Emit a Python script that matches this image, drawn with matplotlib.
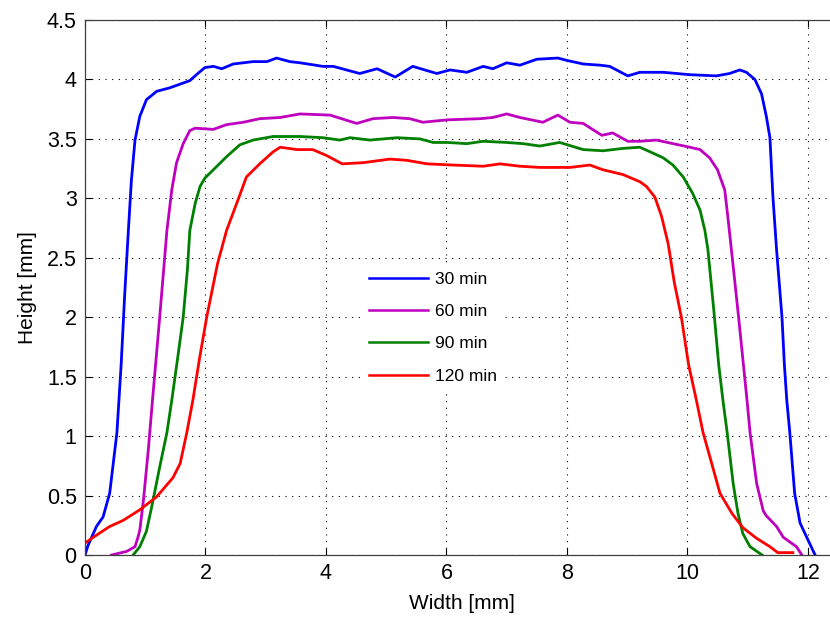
import matplotlib
matplotlib.use("Agg")
import matplotlib.pyplot as plt
from matplotlib.ticker import FuncFormatter

plt.rcParams['font.family'] = ['Liberation Sans', 'DejaVu Sans']

# 30 min profile
x30 = [0, 0.05, 0.19, 0.3, 0.41, 0.53, 0.6, 0.66, 0.72, 0.77, 0.83, 0.91, 1.02, 1.19, 1.41,
       1.74, 1.85, 1.99, 2.13, 2.27, 2.46, 2.79, 3.02, 3.18, 3.4, 3.57, 3.95, 4.12, 4.56,
       4.85, 5.15, 5.44, 5.84, 6.06, 6.34, 6.61, 6.77, 7.0, 7.22, 7.5, 7.85, 8.0, 8.27,
       8.55, 8.71, 9.01, 9.21, 9.6, 10.04, 10.48, 10.7, 10.87, 10.98, 11.12, 11.23, 11.31,
       11.37, 11.42, 11.48, 11.57, 11.61, 11.65, 11.7, 11.78, 11.87, 11.98, 12.12]
h30 = [0, 0.08, 0.24, 0.32, 0.52, 1.03, 1.6, 2.2, 2.73, 3.15, 3.49, 3.69, 3.83, 3.9, 3.93,
       3.99, 4.04, 4.1, 4.11, 4.09, 4.13, 4.15, 4.15, 4.18, 4.15, 4.14, 4.11, 4.11, 4.05,
       4.09, 4.02, 4.11, 4.05, 4.08, 4.06, 4.11, 4.09, 4.14, 4.12, 4.17, 4.18, 4.16, 4.13,
       4.12, 4.11, 4.03, 4.06, 4.06, 4.04, 4.03, 4.05, 4.08, 4.06, 4.0, 3.88, 3.69,
       3.51, 3.01, 2.57, 2.0, 1.6, 1.3, 1.03, 0.52, 0.27, 0.15, 0]

# 60 min profile
x60 = [0.44, 0.69, 0.83, 0.88, 0.91, 0.97, 1.05, 1.12, 1.24, 1.36, 1.44, 1.52, 1.63, 1.74,
       1.83, 2.13, 2.35, 2.63, 2.9, 3.24, 3.57, 4.07, 4.51, 4.78, 5.11, 5.39, 5.61, 6.01,
       6.56, 6.77, 7.0, 7.22, 7.6, 7.85, 8.05, 8.27, 8.58, 8.76, 9.01, 9.21, 9.49, 9.76,
       10.04, 10.21, 10.37, 10.5, 10.62, 10.67, 10.73, 10.85, 10.93, 10.99, 11.04, 11.15,
       11.26, 11.31, 11.48, 11.59, 11.81, 11.9]
h60 = [0, 0.03, 0.07, 0.15, 0.21, 0.46, 0.88, 1.3, 2.0, 2.73, 3.07, 3.3, 3.46, 3.57,
       3.59, 3.58, 3.62, 3.64, 3.67, 3.68, 3.71, 3.7, 3.63, 3.67, 3.68, 3.67, 3.64, 3.66,
       3.67, 3.68, 3.71, 3.68, 3.64, 3.7, 3.64, 3.63, 3.53, 3.55, 3.48, 3.48, 3.49, 3.46,
       3.43, 3.41, 3.34, 3.24, 3.07, 2.85, 2.57, 2.0, 1.6, 1.3, 1.03, 0.6,
       0.37, 0.33, 0.24, 0.15, 0.07, 0]

# 90 min profile
x90 = [0.8, 0.91, 1.02, 1.13, 1.24, 1.36, 1.44, 1.55, 1.63, 1.7, 1.74, 1.83, 1.91, 1.99,
       2.13, 2.35, 2.57, 2.79, 3.12, 3.57, 3.95, 4.23, 4.4, 4.73, 5.18, 5.56, 5.78, 6.01,
       6.34, 6.61, 7.0, 7.27, 7.55, 7.88, 8.27, 8.6, 8.93, 9.21, 9.43, 9.6, 9.76, 9.93,
       10.09, 10.21, 10.29, 10.34, 10.44, 10.52, 10.59, 10.66, 10.76, 10.84, 10.92, 11.04,
       11.24]
h90 = [0, 0.07, 0.2, 0.46, 0.74, 1.03, 1.3, 1.7, 2.0, 2.4, 2.73, 2.96, 3.1, 3.17,
       3.24, 3.35, 3.45, 3.49, 3.52, 3.52, 3.51, 3.49, 3.51, 3.49, 3.51, 3.5, 3.47, 3.47,
       3.46, 3.48, 3.47, 3.46, 3.44, 3.47, 3.41, 3.4, 3.42, 3.43, 3.38, 3.34, 3.28, 3.18,
       3.04, 2.9, 2.73, 2.57, 2.05, 1.6, 1.3, 1.03, 0.6, 0.35, 0.18, 0.07,
       0]

# 120 min profile
x120 = [0, 0.14, 0.41, 0.63, 0.91, 1.19, 1.46, 1.58, 1.69, 1.79, 1.9, 2.02, 2.2, 2.35,
        2.52, 2.68, 2.9, 3.12, 3.24, 3.52, 3.78, 4.01, 4.27, 4.62, 5.06, 5.34, 5.68, 6.11,
        6.61, 6.89, 7.22, 7.55, 8.05, 8.38, 8.6, 8.93, 9.21, 9.32, 9.46, 9.57, 9.68, 9.78,
        9.9, 10.02, 10.15, 10.26, 10.42, 10.54, 10.74, 10.92, 11.15, 11.37, 11.5, 11.75]
h120 = [0.1, 0.15, 0.24, 0.29, 0.38, 0.49, 0.65, 0.77, 1.03, 1.3, 1.65, 2.0, 2.45, 2.73,
        2.96, 3.18, 3.29, 3.39, 3.43, 3.41, 3.41, 3.36, 3.29, 3.3, 3.33, 3.32, 3.29, 3.28,
        3.27, 3.29, 3.27, 3.26, 3.26, 3.28, 3.24, 3.2, 3.14, 3.1, 3.01, 2.85, 2.62, 2.3,
        2.0, 1.6, 1.3, 1.03, 0.74, 0.52, 0.35, 0.23, 0.14, 0.07, 0.02, 0.02]

labels = ['30 min', '60 min', '90 min', '120 min']
colors = ['#0000ff', '#bf00bf', '#008000', '#ff0000']
xticks = [0, 2, 4, 6, 8, 10, 12]
yticks = [0, 0.5, 1, 1.5, 2, 2.5, 3, 3.5, 4, 4.5]

fig = plt.figure(figsize=(8.3, 6.19), dpi=100)
ax = fig.add_axes([85 / 830, 64 / 619, 753 / 830, 535 / 619])

for xs, hs, lab, col in zip([x30, x60, x90, x120], [h30, h60, h90, h120], labels, colors):
    ax.plot(xs, hs, color=col, lw=2, label=lab, solid_joinstyle='round')

ax.set_xlim(0, 12.5)
ax.set_ylim(0, 4.5)
ax.set_xticks(xticks)
ax.set_yticks(yticks)
fmt = FuncFormatter(lambda v, p: '%g' % v)
ax.xaxis.set_major_formatter(fmt)
ax.yaxis.set_major_formatter(fmt)
ax.tick_params(direction='in', top=True, right=True, length=5, width=0.8,
               labelsize=15.5, colors='black', pad=6)
ax.grid(True, color='black', linestyle=(0, (1, 5)), linewidth=0.8)
for s in ax.spines.values():
    s.set_color('#404040')
    s.set_linewidth(0.9)

ax.set_xlabel('Width [mm]', fontsize=15, labelpad=7)
ax.set_ylabel('Height [mm]', fontsize=15, labelpad=7)

leg = ax.legend(loc='upper left', bbox_to_anchor=(0.368, 0.542), borderaxespad=0,
                fontsize=12.5, handlelength=3.4, handletextpad=0.4, labelspacing=0.98,
                frameon=True, framealpha=1, facecolor='white', edgecolor='white',
                fancybox=False, borderpad=0.4)
for line in leg.get_lines():
    line.set_linewidth(1.8)

fig.savefig('out.png', dpi=100)
